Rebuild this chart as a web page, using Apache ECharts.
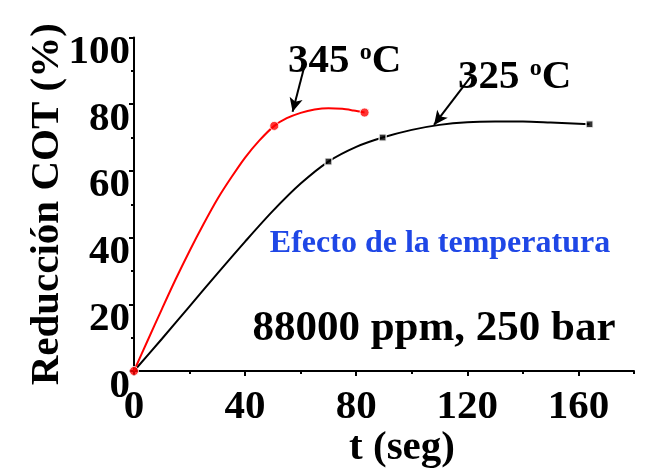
<!DOCTYPE html>
<html>
<head>
<meta charset="utf-8">
<script src="https://cdn.jsdelivr.net/npm/echarts@6/dist/echarts.min.js"></script>
<style>
html,body{margin:0;padding:0;background:#fff;}
#chart{width:652px;height:468px;}
</style>
</head>
<body>
<div id="chart"></div>
<script>
// ---- data ----
const xTicks = [0, 40, 80, 120, 160];
const yTicks = [0, 20, 40, 60, 80, 100];

// points (t in s, reduction in %)
const curve345 = [[0,0],[5,9.3],[10,18.5],[15,27.5],[20,36],[25,44],[30,51.5],[35,58],[40,64],[45,69],[50.5,73.5],[55,75.8],[60,77.4],[65,78.4],[70,78.8],[75,78.6],[79,78.1],[83,77.5]];
const curve325 = [[0,0],[10,9.6],[20,19.4],[30,29.2],[40,38.8],[50,48],[60,56.2],[70,62.8],[80,67.2],[89.5,70],[100,72.3],[110,73.8],[120,74.6],[130,74.8],[140,74.8],[150,74.5],[164,74]];
// measured points (markers)
const points345 = [[0,0],[50.5,73.5],[83,77.5]];
const points325 = [[70,62.8],[89.5,70],[164,74]];

// annotation arrows (data coordinates: start, end)
const arrow345 = [[61.3,91.2],[57.1,77.7]];
const arrow325 = [[121.2,88.2],[108,73.8]];

const FONT = 'Liberation Serif, Times New Roman, serif';

const chart = echarts.init(document.getElementById('chart'), null, {renderer:'canvas'});

const supRich = {
  a: {fontFamily: FONT, fontWeight: 'bold', fontSize: 41, fill: '#000', verticalAlign: 'bottom'},
  b: {fontFamily: FONT, fontWeight: 'bold', fontSize: 24, fill: '#000', verticalAlign: 'top'}
};

const option = {
  animation: false,
  backgroundColor: '#fff',
  grid: {left: 134, top: 37.5, right: 18, bottom: 97, containLabel: false, outerBoundsMode: 'none'},
  xAxis: [{
    type: 'value', min: 0, max: 180, interval: 20,
    name: 't (seg)', nameLocation: 'middle', nameGap: 57, nameMoveOverlap: false,
    nameTextStyle: {fontFamily: FONT, fontWeight: 'bold', fontSize: 41, color: '#000', padding: [0,0,0,36]},
    axisLine: {show: true, lineStyle: {color: '#000', width: 2}},
    axisTick: {show: true, length: 3, lineStyle: {color: '#000', width: 2}},
    axisLabel: {customValues: xTicks, margin: 16, fontFamily: FONT, fontWeight: 'bold', fontSize: 41, color: '#000'},
    splitLine: {show: false}
  }, {
    type: 'value', min: 0, max: 180, interval: 20, position: 'bottom',
    axisLine: {show: false},
    axisTick: {show: true, customValues: xTicks, length: 5, lineStyle: {color: '#000', width: 2}},
    axisLabel: {show: false},
    splitLine: {show: false}
  }],
  yAxis: {
    type: 'value', min: 0, max: 100, interval: 20,
    name: 'Reducción COT (%)', nameLocation: 'middle', nameGap: 66, nameMoveOverlap: false,
    nameTextStyle: {fontFamily: FONT, fontWeight: 'bold', fontSize: 41, color: '#000'},
    axisLine: {show: true, lineStyle: {color: '#000', width: 2}},
    axisTick: {show: true, length: 5, lineStyle: {color: '#000', width: 2}},
    minorTick: {show: true, splitNumber: 2, length: 3, lineStyle: {color: '#000', width: 2}},
    axisLabel: {customValues: yTicks, margin: 4, verticalAlign: 'top', lineHeight: 30, fontFamily: FONT, fontWeight: 'bold', fontSize: 41, color: '#000'},
    splitLine: {show: false}
  },
  series: [
    {
      type: 'line', data: curve325, smooth: 0.3, showSymbol: false, symbol: 'none',
      lineStyle: {color: '#000', width: 2}, z: 2,
      markLine: {
        silent: true, symbol: ['none', 'arrow'], symbolSize: [10, 14],
        lineStyle: {color: '#000', width: 2, type: 'solid'},
        label: {show: false},
        data: [
          [{coord: arrow345[0]}, {coord: arrow345[1]}],
          [{coord: arrow325[0]}, {coord: arrow325[1]}]
        ]
      }
    },
    {
      type: 'line', data: curve345, smooth: 0.3, showSymbol: false, symbol: 'none',
      lineStyle: {color: '#ff0000', width: 2}, z: 3
    },
    {
      type: 'scatter', data: points325, symbol: 'rect', symbolSize: 7,
      itemStyle: {color: '#000', borderColor: '#fff', borderWidth: 1.5}, z: 4
    },
    {
      type: 'scatter', data: points345, symbol: 'circle', symbolSize: 9,
      itemStyle: {color: '#ff0000', borderColor: '#fff', borderWidth: 1}, z: 5
    }
  ],
  graphic: [
    {
      type: 'text', left: 288, top: 41, z: 10,
      style: {text: '{a|345 }{b|o}{a|C}', rich: supRich}
    },
    {
      type: 'text', left: 458, top: 57, z: 10,
      style: {text: '{a|325 }{b|o}{a|C}', rich: supRich}
    },
    {
      type: 'text', x: 440, y: 244, z: 10,
      style: {text: 'Efecto de la temperatura', font: 'bold 32px ' + FONT, fill: '#1f47e6', align: 'center', verticalAlign: 'middle'}
    },
    {
      type: 'text', x: 434, y: 329, z: 10,
      style: {text: '88000 ppm, 250 bar', font: 'bold 43px ' + FONT, fill: '#000', align: 'center', verticalAlign: 'middle'}
    }
  ]
};
chart.setOption(option);
</script>
</body>
</html>
